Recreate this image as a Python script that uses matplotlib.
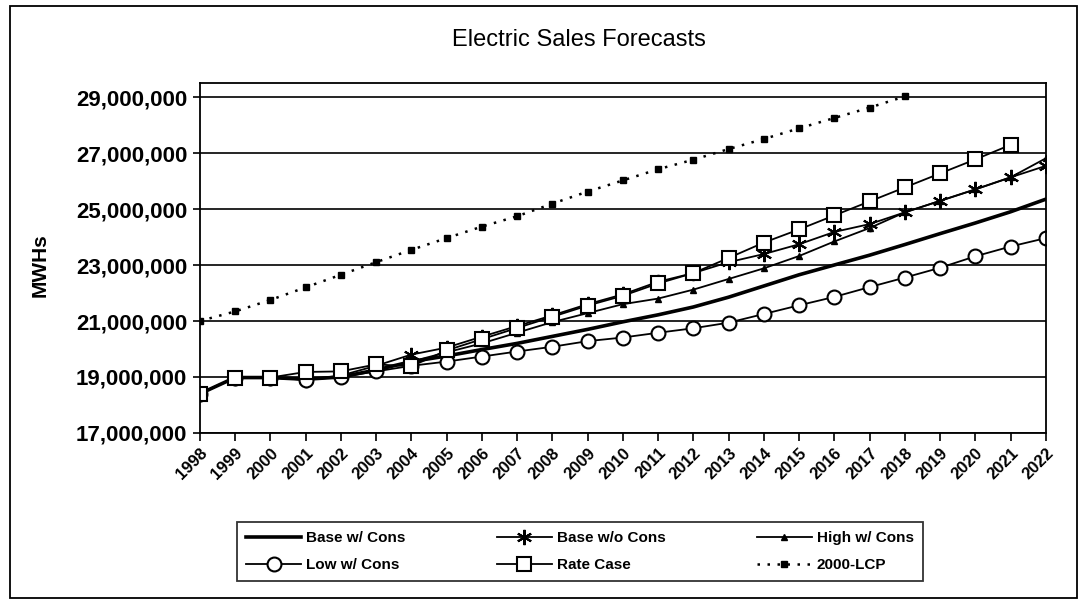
#!/usr/bin/env python3
"""
Electric sales forecasts, 1998-2022 (MWh), six scenarios.
Writes out.png.
"""

import matplotlib
matplotlib.use("Agg")
import matplotlib.pyplot as plt
from matplotlib.patches import Rectangle
from matplotlib.ticker import FuncFormatter

years = list(range(1998, 2023))
y_ticks = [17e6, 19e6, 21e6, 23e6, 25e6, 27e6, 29e6]

# millions of MWh
base_w_cons = [18.40, 18.98, 18.98, 18.92, 19.00, 19.25, 19.55, 19.75, 19.98, 20.20,
               20.45, 20.70, 20.97, 21.22, 21.50, 21.85, 22.25, 22.65, 23.00, 23.35,
               23.73, 24.12, 24.50, 24.90, 25.35]
base_wo_cons = [18.40, 18.98, 18.98, 18.90, 19.05, 19.40, 19.80, 20.05, 20.44, 20.82,
                21.20, 21.60, 21.95, 22.40, 22.71, 23.10, 23.39, 23.74, 24.18, 24.46,
                24.88, 25.29, 25.70, 26.13, 26.54]
high_w_cons = [18.40, 18.98, 18.98, 18.92, 19.02, 19.25, 19.55, 19.88, 20.20, 20.58,
               20.96, 21.28, 21.60, 21.80, 22.12, 22.50, 22.88, 23.32, 23.84, 24.32,
               24.88, 25.29, 25.70, 26.13, 26.81]
low_w_cons = [18.40, 18.98, 18.98, 18.90, 19.00, 19.20, 19.40, 19.55, 19.73, 19.91,
              20.08, 20.28, 20.41, 20.58, 20.74, 20.94, 21.25, 21.56, 21.86, 22.21,
              22.55, 22.90, 23.31, 23.66, 23.96]
# rate case runs through 2021
rate_case = [18.40, 18.98, 18.98, 19.18, 19.20, 19.45, 19.38, 19.95, 20.35, 20.75,
             21.15, 21.55, 21.90, 22.34, 22.71, 23.25, 23.80, 24.27, 24.77, 25.27,
             25.77, 26.27, 26.77, 27.29]
# 2000 LCP runs through 2018
lcp_2000 = [21.00, 21.34, 21.75, 22.20, 22.65, 23.10, 23.54, 23.96, 24.37, 24.74,
            25.19, 25.62, 26.02, 26.42, 26.76, 27.14, 27.50, 27.88, 28.25, 28.62,
            29.02]

title = "Electric Sales Forecasts"
y_label = "MWHs"

plt.rcParams["font.family"] = ["Liberation Sans", "DejaVu Sans"]


def mwh(vals):
    return [v * 1e6 for v in vals]


def main():
    fig = plt.figure(figsize=(10.8, 6.05), dpi=100)
    ax = fig.add_axes([0.185, 0.2843, 0.7833, 0.5785])

    # outer chart border
    fig.patches.append(Rectangle((0.009, 0.012), 0.988, 0.978, transform=fig.transFigure,
                                 fill=False, lw=1.3, ec="black"))

    ax.set_yticks(y_ticks)
    ax.set_ylim(17e6, 29.5e6)
    ax.set_xlim(years[0], years[-1])
    ax.grid(axis="y", color="black", lw=1.2)
    ax.set_axisbelow(True)

    h_base, = ax.plot(years, mwh(base_w_cons), color="black", lw=2.6,
                      label="Base w/ Cons")
    h_wo, = ax.plot(years, mwh(base_wo_cons), color="black", lw=1.3,
                    marker=(6, 2, 0), ms=11, mew=1.5, label="Base w/o Cons")
    h_high, = ax.plot(years, mwh(high_w_cons), color="black", lw=1.3,
                      marker="^", ms=5, label="High w/ Cons")
    h_low, = ax.plot(years, mwh(low_w_cons), color="black", lw=1.3,
                     marker="o", ms=10, mfc="white", mew=1.5, label="Low w/ Cons")
    h_rate, = ax.plot(years[:len(rate_case)], mwh(rate_case), color="black", lw=1.3,
                      marker="s", ms=10, mfc="white", mew=1.5, label="Rate Case")
    h_lcp, = ax.plot(years[:len(lcp_2000)], mwh(lcp_2000), color="black", lw=1.8,
                     ls=(0, (1, 3)), marker="s", ms=4, label="2000-LCP")

    ax.set_xticks(years)
    ax.set_xticklabels([str(y) for y in years], rotation=45, ha="right",
                       rotation_mode="anchor", fontsize=12, fontweight="bold")
    ax.yaxis.set_major_formatter(FuncFormatter(lambda v, p: f"{v:,.0f}"))
    for t in ax.get_yticklabels():
        t.set_fontsize(16)
        t.set_fontweight("bold")
    ax.tick_params(axis="x", direction="out", length=6, width=1.2, pad=3)
    ax.tick_params(axis="y", direction="out", length=5, width=1.2, pad=4)
    for s in ax.spines.values():
        s.set_linewidth(1.3)

    fig.text(0.037, 0.562, y_label, rotation=90, ha="center", va="center",
             fontsize=15, fontweight="bold")
    fig.text(0.536, 0.934, title, ha="center", va="center", fontsize=17)

    # row-major order for a 3-column legend
    handles = [h_base, h_low, h_wo, h_rate, h_high, h_lcp]
    leg = fig.legend(handles=handles, labels=[h.get_label() for h in handles],
                     ncol=3, loc="center", bbox_to_anchor=(0.537, 0.088),
                     frameon=True, fancybox=False, edgecolor="black",
                     prop={"size": 11, "weight": "bold"}, handlelength=3.6,
                     columnspacing=6.0, handletextpad=0.3, borderpad=0.6,
                     labelspacing=0.85, borderaxespad=0)
    leg.get_frame().set_linewidth(1.3)

    fig.savefig("out.png", dpi=100)
    plt.close(fig)


if __name__ == "__main__":
    main()
